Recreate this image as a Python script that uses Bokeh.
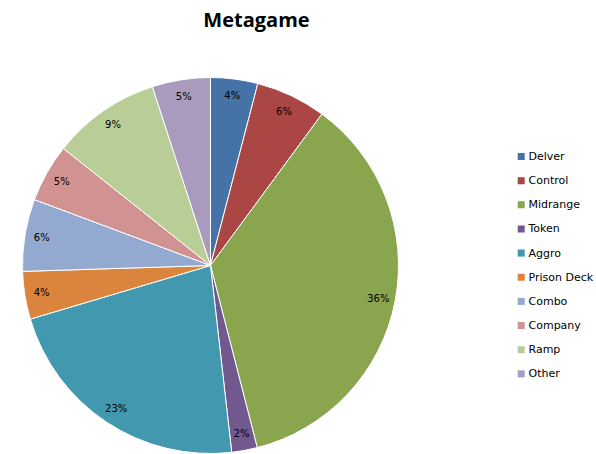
import math
from bokeh.plotting import figure
from bokeh.models import ColumnDataSource, Range1d
from bokeh.core.properties import value
from bokeh.embed import file_html
from bokeh.resources import INLINE

categories = ["Delver", "Control", "Midrange", "Token", "Aggro",
              "Prison Deck", "Combo", "Company", "Ramp", "Other"]
shares = [4.05, 6.05, 35.9, 2.2, 22.2, 4.1, 6.2, 5.0, 9.3, 5.0]
pct_labels = ["4%", "6%", "36%", "2%", "23%", "4%", "6%", "5%", "9%", "5%"]
colors = ["#4572A7", "#AA4643", "#89A54E", "#71588F", "#4198AF",
          "#DB843D", "#93A9CF", "#D19392", "#B9CD96", "#A99BBD"]
title_text = "Metagame"

W, H = 596, 454
p = figure(width=W, height=H, output_backend="svg", toolbar_location=None,
           x_axis_type=None, y_axis_type=None, min_border=0,
           x_range=Range1d(0, W), y_range=Range1d(0, H))
p.outline_line_color = None
p.grid.visible = False
p.background_fill_color = "white"

cx, cy, R = 210, H - 265, 188
total = sum(shares)
starts, ends, lx, ly = [], [], [], []
acc = 0.0
for s in shares:
    a0 = math.pi / 2 - 2 * math.pi * acc / total
    a1 = math.pi / 2 - 2 * math.pi * (acc + s) / total
    starts.append(a0)
    ends.append(a1)
    mid = (a0 + a1) / 2
    lx.append(cx + 171 * math.cos(mid))
    ly.append(cy + 171 * math.sin(mid))
    acc += s

src = ColumnDataSource(dict(start=starts, end=ends, color=colors,
                            lx=lx, ly=ly, label=pct_labels))
p.wedge(x=cx, y=cy, radius=R, start_angle="start", end_angle="end",
        direction="clock", fill_color="color", line_color="white",
        line_width=1, source=src)
p.text(x="lx", y="ly", text="label", source=src, text_align="center",
       text_baseline="middle", text_font=value("DejaVu Sans"),
       text_font_size="10px", text_color="#000000")

p.text(x=[256], y=[H - 19], text=[title_text], text_align="center",
       text_baseline="middle", text_font=value("Open Sans"),
       text_font_size="20px", text_font_style="bold", text_color="#000000")

n = len(categories)
leg_y = [H - 156 - 24.15 * i for i in range(n)]
leg = ColumnDataSource(dict(y=leg_y, name=categories, color=colors))
p.rect(x=520.7, y="y", width=7, height=7, fill_color="color",
       line_color=None, source=leg)
p.text(x=528, y="y", text="name", source=leg, text_align="left",
       text_baseline="middle", text_font=value("DejaVu Sans"),
       text_font_size="11px", text_color="#000000")

open("out.html", "w").write(file_html(p, INLINE))
